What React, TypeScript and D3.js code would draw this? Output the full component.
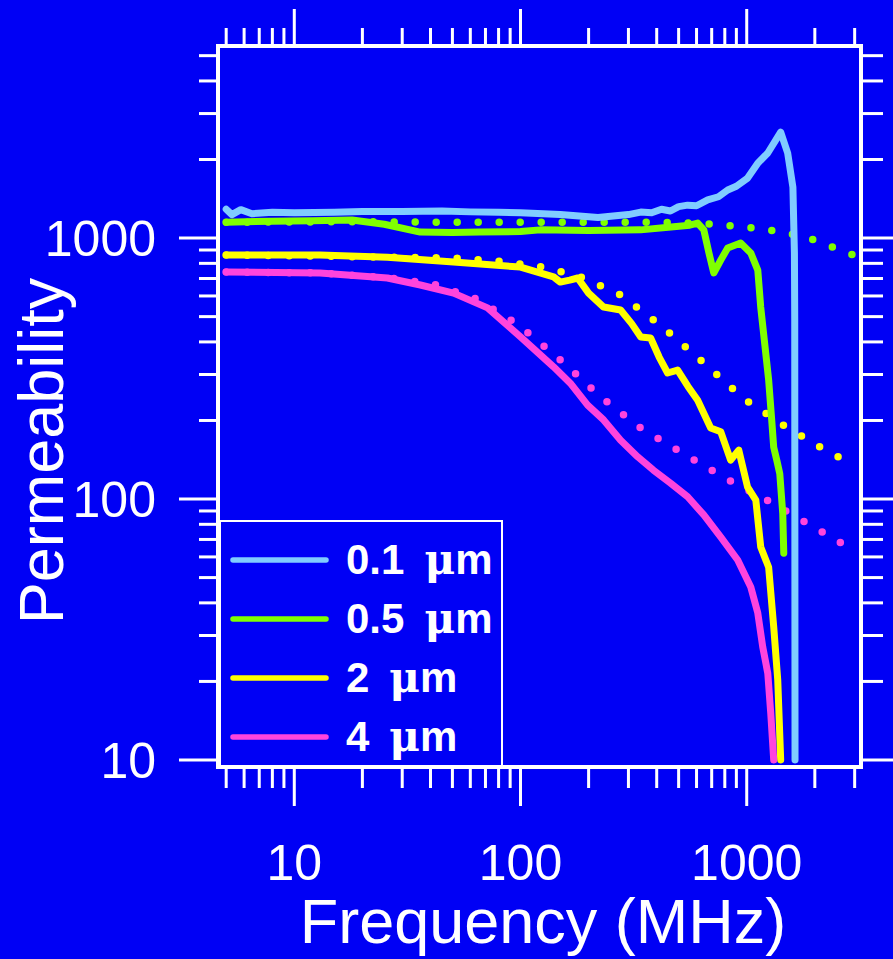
import React from 'react';
import * as d3 from 'd3';

// ---- data (frequency in MHz, relative permeability) ----
const freq01 = [5, 5.3, 5.8, 6.5, 8, 10, 15, 20, 30, 45, 60, 80, 100, 150, 220, 300, 340, 380, 420, 460, 500, 548, 600, 672, 750, 824, 900, 1009, 1119, 1239, 1413, 1517, 1600, 1625, 1630, 1632, 1635];
const perm01 = [1290, 1230, 1285, 1240, 1255, 1250, 1255, 1265, 1265, 1270, 1260, 1255, 1250, 1230, 1200, 1230, 1258, 1250, 1290, 1270, 1320, 1337, 1330, 1400, 1440, 1528, 1580, 1698, 1936, 2118, 2547, 2118, 1566, 877, 485, 100, 10];

const freq05 = [5, 8, 12, 18, 25, 36, 50, 66, 100, 122, 200, 340, 450, 560, 607, 646, 680, 715, 768, 824, 940, 1042, 1119, 1153, 1250, 1290, 1316, 1360, 1400, 1443, 1458];
const perm05 = [1151, 1160, 1165, 1172, 1130, 1054, 1050, 1054, 1060, 1075, 1070, 1075, 1100, 1120, 1141, 1075, 880, 735, 824, 916, 957, 877, 754, 544, 286, 200, 158, 140, 125, 88, 62];
const freqDot05 = [5, 20, 50, 100, 200, 400, 600, 783, 1202, 1841, 2799, 2950];
const permDot05 = [1150, 1155, 1150, 1150, 1150, 1150, 1140, 1122, 1082, 1009, 877, 862];

const freq2 = [5, 13, 25.8, 50.6, 100, 140, 150, 165, 179, 200, 233, 277, 310, 340, 376, 410, 447, 495, 550, 607, 693, 768, 849, 922, 1009, 1097, 1153, 1250, 1316, 1371, 1413];
const perm2 = [861, 861, 845, 809, 774, 710, 678, 690, 703, 615, 544, 530, 470, 418, 414, 350, 304, 312, 270, 239, 187, 181, 141, 154, 111, 99, 65.5, 54.8, 32.4, 20.3, 10];
const freqDot2 = [5, 27.4, 51.6, 79, 119, 182, 277, 421, 646, 980, 1489, 2259, 2799, 2950];
const permDot2 = [861, 845, 838, 816, 781, 714, 605, 460, 332, 241, 189, 153, 139, 135];

const freq4 = [5, 13, 25.8, 36.1, 50.6, 71.5, 100, 140, 166, 198, 233, 277, 330, 387, 461, 548, 646, 768, 912, 1042, 1119, 1177, 1239, 1277, 1316];
const perm4 = [741, 735, 703, 661, 615, 540, 418, 321, 278, 229, 201, 168, 145, 129, 115, 102, 86.9, 71.5, 58.4, 46.0, 36.6, 27.1, 21.5, 15.1, 10];
const freqDot4 = [5, 13, 25.8, 41.2, 63.8, 97, 147, 224, 340, 521, 791, 1202, 1841, 2799, 2950];
const permDot4 = [741, 735, 705, 667, 584, 468, 347, 248, 187, 150, 121, 100, 80.9, 65.5, 63];

const seriesLabels = ['0.1', '0.5', '2', '4'];
const seriesColors = ['#80ccff', '#80ff00', '#ffff00', '#ff44dd'];

const xMajorTicks = [10, 100, 1000];
const xMinorTicks = [5, 6, 7, 8, 9, 20, 30, 40, 50, 60, 70, 80, 90, 200, 300, 400, 500, 600, 700, 800, 900, 2000, 3000];
const yMajorTicks = [10, 100, 1000];
const yMinorTicks = [20, 30, 40, 50, 60, 70, 80, 90, 200, 300, 400, 500, 600, 700, 800, 900, 2000, 3000, 4000, 5000];

const BG = '#0000f5';
const FONT = '"Liberation Sans", Arial, sans-serif';

function zip(xs: number[], ys: number[]): [number, number][] {
  return xs.map((v, i) => [v, ys[i]]);
}

export default function App() {
  const W = 893, H = 959;
  const left = 218, right = 861, top = 46, bottom = 767;
  const x = d3.scaleLog().domain([4.6, 3200]).range([left, right]);
  const y = d3.scaleLog().domain([9.4, 5445]).range([bottom, top]);
  const line = d3.line<[number, number]>().x(d => x(d[0])).y(d => y(d[1]));

  const solid = [zip(freq01, perm01), zip(freq05, perm05), zip(freq2, perm2), zip(freq4, perm4)];
  const dotted = [
    { d: zip(freqDot05, permDot05), c: seriesColors[1] },
    { d: zip(freqDot2, permDot2), c: seriesColors[2] },
    { d: zip(freqDot4, permDot4), c: seriesColors[3] },
  ];

  const legendY = [560, 619, 678, 737];

  return (
    <svg width={W} height={H} style={{ position: 'absolute', left: 0, top: 0, display: 'block' }}>
      <rect x={0} y={0} width={W} height={H} fill={BG} />
      <defs>
        <clipPath id="plot">
          <rect x={left} y={top} width={right - left} height={bottom - top} />
        </clipPath>
      </defs>
      <g clipPath="url(#plot)">
        {dotted.map((s, i) => (
          <path key={'d' + i} d={line(s.d) || ''} fill="none" stroke={s.c} strokeWidth={7.5}
            strokeDasharray="0 21" strokeLinecap="round" />
        ))}
        {solid.map((s, i) => (
          <path key={'s' + i} d={line(s) || ''} fill="none" stroke={seriesColors[i]} strokeWidth={7}
            strokeLinejoin="round" strokeLinecap="round" />
        ))}
      </g>

      {/* legend */}
      <rect x={220} y={521} width={282} height={245} fill={BG} stroke="#ffffff" strokeWidth={2} />
      {seriesLabels.map((lab, i) => (
        <g key={'l' + i}>
          <line x1={233} x2={326} y1={legendY[i]} y2={legendY[i]} stroke={seriesColors[i]} strokeWidth={5.5} strokeLinecap="round" />
          <text x={346} y={legendY[i] + 14} fill="#ffffff" fontFamily={FONT} fontWeight="bold" fontSize={42}>
            {lab}
            <tspan dx={20} fontFamily='"DejaVu Serif", "Liberation Serif", serif'>μ</tspan>
            <tspan>m</tspan>
          </text>
        </g>
      ))}

      {/* frame */}
      <rect x={left} y={top} width={right - left} height={bottom - top} fill="none" stroke="#ffffff" strokeWidth={4} />

      {/* y ticks */}
      {yMinorTicks.map(t => (
        <g key={'ym' + t}>
          <line x1={199} x2={left} y1={y(t)} y2={y(t)} stroke="#fff" strokeWidth={3} />
          <line x1={right} x2={883} y1={y(t)} y2={y(t)} stroke="#fff" strokeWidth={3} />
        </g>
      ))}
      {yMajorTicks.map(t => (
        <g key={'yM' + t}>
          <line x1={179} x2={left} y1={y(t)} y2={y(t)} stroke="#fff" strokeWidth={3} />
          <line x1={right} x2={895} y1={y(t)} y2={y(t)} stroke="#fff" strokeWidth={3} />
          <text x={156} y={y(t) + 18} textAnchor="end" fill="#fff" fontFamily={FONT} fontSize={50}>{t}</text>
        </g>
      ))}

      {/* x ticks */}
      {xMinorTicks.map(t => (
        <g key={'xm' + t}>
          <line x1={x(t)} x2={x(t)} y1={top} y2={28} stroke="#fff" strokeWidth={3} />
          <line x1={x(t)} x2={x(t)} y1={bottom} y2={788} stroke="#fff" strokeWidth={3} />
        </g>
      ))}
      {xMajorTicks.map(t => (
        <g key={'xM' + t}>
          <line x1={x(t)} x2={x(t)} y1={top} y2={9} stroke="#fff" strokeWidth={3} />
          <line x1={x(t)} x2={x(t)} y1={bottom} y2={806} stroke="#fff" strokeWidth={3} />
          <text x={x(t)} y={880} textAnchor="middle" fill="#fff" fontFamily={FONT} fontSize={50}>{t}</text>
        </g>
      ))}

      {/* axis titles */}
      <text x={543} y={943} textAnchor="middle" fill="#fff" fontFamily={FONT} fontSize={63}>Frequency (MHz)</text>
      <text transform="translate(63,451) rotate(-90)" textAnchor="middle" fill="#fff" fontFamily={FONT} fontSize={63}>Permeability</text>
    </svg>
  );
}
